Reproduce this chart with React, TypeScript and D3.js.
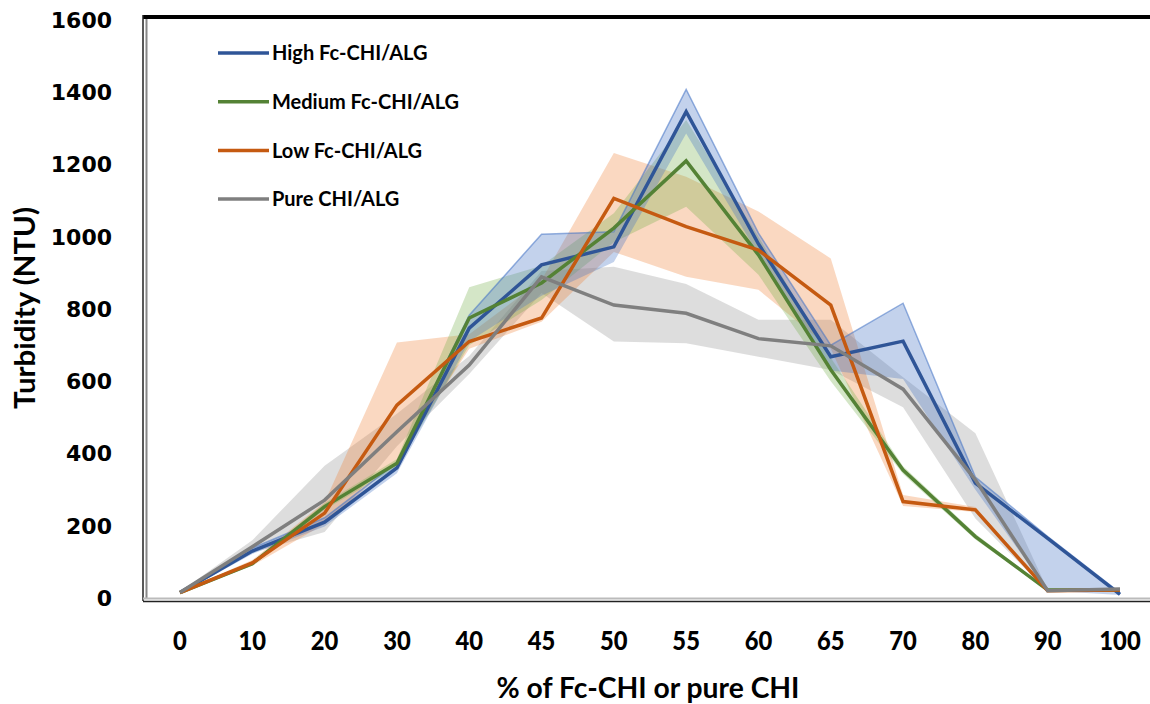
import React from "react";
import * as d3 from "d3";

const categories = ["0", "10", "20", "30", "40", "45", "50", "55", "60", "65", "70", "80", "90", "100"];
const yTicks = [0, 200, 400, 600, 800, 1000, 1200, 1400, 1600];

const highMean = [15, 130, 210, 360, 747, 922, 972, 1346, 980, 668, 711, 318, 165, 10];
const highUpper = [18, 138, 222, 375, 783, 1007, 1014, 1408, 1010, 700, 816, 335, 170, 14];
const highLower = [12, 122, 198, 345, 711, 837, 930, 1286, 950, 630, 606, 300, 20, 8];

const midMean = [15, 95, 253, 373, 775, 872, 1024, 1210, 950, 632, 354, 170, 22, 22];
const midUpper = [17, 100, 262, 385, 860, 920, 1065, 1323, 1000, 665, 365, 178, 25, 25];
const midLower = [13, 90, 244, 361, 700, 825, 985, 1083, 895, 600, 343, 162, 19, 19];

const lowMean = [15, 97, 235, 534, 710, 775, 1106, 1028, 963, 811, 267, 244, 20, 22];
const lowUpper = [17, 105, 265, 707, 730, 880, 1232, 1166, 1070, 940, 285, 252, 22, 24];
const lowLower = [13, 89, 205, 380, 690, 765, 958, 889, 853, 690, 255, 238, 18, 20];

const pureMean = [15, 142, 271, 460, 645, 889, 811, 788, 718, 698, 578, 327, 20, 25];
const pureUpper = [17, 160, 366, 510, 670, 905, 917, 869, 770, 770, 611, 456, 22, 27];
const pureLower = [13, 125, 183, 420, 620, 844, 710, 705, 668, 631, 528, 220, 18, 23];

const seriesNames = ["High Fc-CHI/ALG", "Medium Fc-CHI/ALG", "Low Fc-CHI/ALG", "Pure CHI/ALG"];

const W = 1150;
const H = 704;

export default function App() {
  const x = d3.scalePoint<string>().domain(categories).range([180, 1120]);
  const y = d3.scaleLinear().domain([0, 1600]).range([598, 20]);

  const series = [
    { name: seriesNames[0], mean: highMean, upper: highUpper, lower: highLower, line: "#2f5597", band: "#4472c4", bandOp: 0.32, edge: true },
    { name: seriesNames[1], mean: midMean, upper: midUpper, lower: midLower, line: "#548235", band: "#70ad47", bandOp: 0.3, edge: false },
    { name: seriesNames[2], mean: lowMean, upper: lowUpper, lower: lowLower, line: "#c55a11", band: "#ed7d31", bandOp: 0.3, edge: false },
    { name: seriesNames[3], mean: pureMean, upper: pureUpper, lower: pureLower, line: "#7f7f7f", band: "#a5a5a5", bandOp: 0.38, edge: false },
  ];

  const bandPath = (up: number[], lo: number[]) =>
    d3
      .area<number>()
      .x((_, i) => x(categories[i]) as number)
      .y0((_, i) => y(lo[i]))
      .y1((_, i) => y(up[i]))(up) as string;

  const linePath = (vals: number[]) =>
    d3
      .line<number>()
      .x((_, i) => x(categories[i]) as number)
      .y((d) => y(d))(vals) as string;

  const bandOrder = [3, 2, 1, 0];
  const boldFont = "Lato, 'Open Sans', sans-serif";

  return (
    <svg width={W} height={H} style={{ position: "absolute", left: 0, top: 0, background: "#fff" }}>
      <rect x={0} y={0} width={W} height={H} fill="#fff" />
      {bandOrder.map((k) => {
        const s = series[k];
        return (
          <g key={"band" + k}>
            <path d={bandPath(s.upper, s.lower)} fill={s.band} fillOpacity={s.bandOp} stroke="none" />
            {s.edge && (
              <path d={linePath(s.upper)} fill="none" stroke={s.band} strokeOpacity={0.55} strokeWidth={1.5} />
            )}
          </g>
        );
      })}
      {series.map((s, k) => (
        <path key={"line" + k} d={linePath(s.mean)} fill="none" stroke={s.line} strokeWidth={3.5} strokeLinejoin="miter" />
      ))}
      <line x1={143} x2={W} y1={17} y2={17} stroke="#000" strokeWidth={4} />
      <line x1={143} x2={143} y1={15} y2={601} stroke="#222" strokeWidth={1.5} />
      <line x1={146.5} x2={146.5} y1={19} y2={598} stroke="#888" strokeWidth={2} />
      <line x1={143} x2={W} y1={598.5} y2={598.5} stroke="#bbb" strokeWidth={2} />
      <line x1={143} x2={W} y1={601.5} y2={601.5} stroke="#222" strokeWidth={1.5} />
      {yTicks.map((t) => (
        <text
          key={"yt" + t}
          x={112}
          y={y(t)}
          dy="0.36em"
          textAnchor="end"
          fontFamily="'DejaVu Sans', Verdana, sans-serif"
          fontWeight="bold"
          fontSize={22}
          fill="#000"
        >
          {t}
        </text>
      ))}
      {categories.map((c) => (
        <text
          key={"xt" + c}
          transform={`translate(${x(c)},640) scale(0.88,1)`}
          dy="0.36em"
          textAnchor="middle"
          fontFamily={boldFont}
          fontWeight="900"
          fontSize={27}
          fill="#000"
        >
          {c}
        </text>
      ))}
      <text
        x={648}
        y={688}
        dy="0.36em"
        textAnchor="middle"
        fontFamily={boldFont}
        fontWeight="bold"
        fontSize={28}
        textLength={303}
        lengthAdjust="spacingAndGlyphs"
        fill="#000"
      >
        % of Fc-CHI or pure CHI
      </text>
      <text
        transform="translate(25,308) rotate(-90)"
        dy="0.36em"
        textAnchor="middle"
        fontFamily={boldFont}
        fontWeight="bold"
        fontSize={28}
        textLength={202}
        lengthAdjust="spacingAndGlyphs"
        fill="#000"
      >
        Turbidity (NTU)
      </text>
      {series.map((s, k) => {
        const ly = 53 + k * 48.7;
        return (
          <g key={"lg" + k}>
            <line x1={218} x2={269} y1={ly} y2={ly} stroke={s.line} strokeWidth={3.5} />
            <text
              x={272}
              y={ly}
              dy="0.36em"
              fontFamily={boldFont}
              fontWeight="bold"
              fontSize={20}
              fill="#000"
            >
              {s.name}
            </text>
          </g>
        );
      })}
    </svg>
  );
}
